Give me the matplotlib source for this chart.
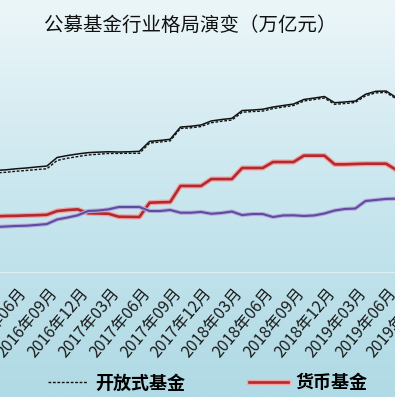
import numpy as np
import pandas as pd
import matplotlib
matplotlib.use("Agg")
import matplotlib.pyplot as plt
import matplotlib.patheffects as pe
from matplotlib.lines import Line2D
from matplotlib.transforms import ScaledTranslation

plt.rcParams['font.family'] = ['Noto Sans CJK SC', 'DejaVu Sans']

# monthly data, 2016-04 .. 2019-07 (万亿元)
months = pd.period_range('2016-04', periods=40, freq='M')
total = [7.81, 7.86, 7.94, 8.00, 8.08, 8.15, 8.81, 8.96, 9.08, 9.18,
         9.22, 9.25, 9.23, 9.25, 9.28, 10.05, 10.12, 10.21, 11.15, 11.21,
         11.31, 11.62, 11.73, 11.82, 12.42, 12.46, 12.52, 12.69, 12.81, 12.92,
         13.27, 13.38, 13.50, 13.02, 13.08, 13.15, 13.67, 13.90, 13.92, 13.42]
open_end = [7.62, 7.67, 7.75, 7.81, 7.88, 7.94, 8.58, 8.75, 8.88, 9.00,
            9.06, 9.12, 9.12, 9.13, 9.13, 9.92, 10.00, 10.09, 11.04, 11.09,
            11.19, 11.48, 11.60, 11.69, 12.29, 12.34, 12.38, 12.57, 12.69, 12.81,
            13.15, 13.27, 13.38, 12.90, 12.96, 13.04, 13.55, 13.78, 13.81, 13.31]
money = [4.28, 4.31, 4.32, 4.35, 4.37, 4.40, 4.69, 4.77, 4.82, 4.52,
         4.50, 4.48, 4.25, 4.24, 4.23, 5.33, 5.36, 5.38, 6.62, 6.62,
         6.62, 7.15, 7.15, 7.15, 8.00, 8.00, 8.00, 8.46, 8.46, 8.46,
         8.95, 8.95, 8.95, 8.28, 8.28, 8.31, 8.33, 8.33, 8.33, 7.85]
non_money = [3.46, 3.50, 3.54, 3.56, 3.62, 3.69, 4.04, 4.19, 4.36, 4.69,
             4.73, 4.82, 5.00, 5.00, 5.00, 4.69, 4.69, 4.77, 4.56, 4.56,
             4.62, 4.48, 4.54, 4.65, 4.38, 4.46, 4.46, 4.23, 4.35, 4.36,
             4.31, 4.35, 4.50, 4.73, 4.85, 4.88, 5.46, 5.54, 5.62, 5.64]

x = np.arange(len(months))
labels = [f"{p.year}年{p.month:02d}月" for p in months]

fig = plt.figure(figsize=(3.95, 3.97), dpi=100)

# gradient background
bg = fig.add_axes([0, 0, 1, 1], zorder=-5)
bg.axis('off')
stops = np.array([[236, 246, 249], [200, 230, 238], [176, 218, 229]]) / 255
t = np.linspace(0, 1, 200)
grad = np.stack([np.interp(t, [0, 0.5, 1], stops[:, c]) for c in range(3)], axis=1)
bg.imshow(grad[:, None, :], aspect='auto', extent=[0, 1, 0, 1])

ax = fig.add_axes([0, 125 / 397, 1, 208 / 397])
ax.patch.set_alpha(0)

ax.plot(x, total, color='#111111', lw=1.1, zorder=3)
ax.plot(x, open_end, color='#111111', lw=1.0, dashes=(2, 1.2), zorder=4)
ax.plot(x, money, color='#b02a30', lw=1.9, zorder=3,
        path_effects=[pe.Stroke(linewidth=3.7, foreground='#f2a3a3'), pe.Normal()])
ax.plot(x, non_money, color='#5f4ba0', lw=1.5, zorder=3,
        path_effects=[pe.Stroke(linewidth=3.0, foreground='#b6acdc'), pe.Normal()])

ax.set_xlim(0.44, 38.87)
ax.set_ylim(0, 16)
ax.set_yticks([])
for s in ['top', 'left', 'right']:
    ax.spines[s].set_visible(False)
ax.spines['bottom'].set_color('#dff0f4')
ax.spines['bottom'].set_linewidth(0.8)

shift = ScaledTranslation(0.08, 0, fig.dpi_scale_trans)
tick_idx = list(range(2, len(months), 3))
ax.set_xticks(tick_idx)
ax.set_xticklabels([labels[i] for i in tick_idx])
ax.tick_params(axis='x', length=0, pad=13, labelsize=11.5, labelcolor='#1a1a1a')
for lab in ax.get_xticklabels():
    lab.set_rotation(50)
    lab.set_ha('right')
    lab.set_va('center')
    lab.set_rotation_mode('anchor')
    lab.set_transform(lab.get_transform() + shift)
# next quarter label, partly off the canvas
ax.annotate("2019年09月", xy=(41, 0), xycoords=('data', 'axes fraction'),
            xytext=(5.8, -13), textcoords='offset points', rotation=50,
            ha='right', va='center', rotation_mode='anchor', fontsize=11.5,
            color='#1a1a1a', annotation_clip=False)

fig.text(190 / 395, 1 - 25 / 397, "公募基金行业格局演变（万亿元）", ha='center',
         va='center', fontsize=14, color='#111111')

h1 = Line2D([], [], color='#111111', lw=1.0, dashes=(2, 1.2))
h2 = Line2D([], [], color='#b02a30', lw=1.9,
            path_effects=[pe.Stroke(linewidth=3.7, foreground='#f2a3a3'), pe.Normal()])
fig.legend([h1, h2], ["开放式基金", "货币基金"], ncol=2, loc='center',
           bbox_to_anchor=(208 / 395, 1 - 383 / 397), frameon=False,
           handlelength=2.2, handletextpad=0.4, columnspacing=3.5,
           prop={'size': 13, 'weight': 'bold'})

fig.savefig("out.png", dpi=100)
